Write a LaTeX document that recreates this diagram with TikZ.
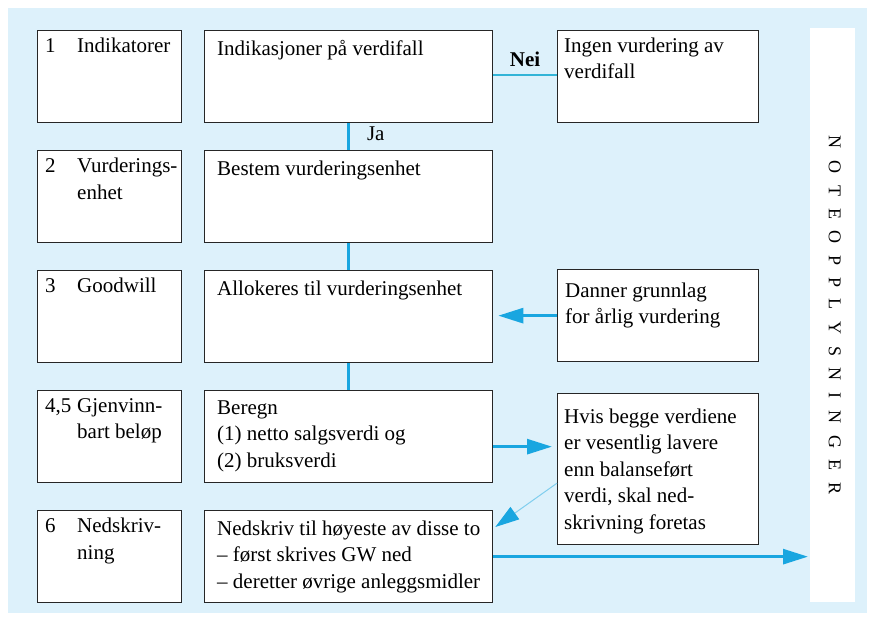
\documentclass[tikz,border=0pt]{standalone}
\usepackage{fontspec}
\setmainfont{Liberation Serif}
\usetikzlibrary{positioning,arrows.meta}

\definecolor{fondo}{RGB}{221,241,251}
\definecolor{azul}{RGB}{25,166,224}
\definecolor{turquesa}{RGB}{50,180,215}
\definecolor{borde}{RGB}{38,38,38}

\tikzset{
	caja/.style={draw=borde, line width=1.3pt, fill=white, anchor=north west, inner sep=0pt},
	izq/.style={caja, minimum width=144pt, minimum height=92pt},
	centro/.style={caja, minimum width=288pt, minimum height=92pt},
	der/.style={caja, minimum width=201pt, minimum height=92pt},
	texto/.style={align=left, inner sep=0pt, font=\fontsize{21}{26.5}\selectfont},
	linea/.style={draw=azul, line width=2.8pt},
	flecha/.style={draw=azul, line width=2.8pt, -{Triangle[length=25pt,width=15pt]}},
}
\newcommand{\numero}[1]{\makebox[32pt][l]{#1}}
\newcommand{\sangria}{\hspace*{32pt}}

\begin{document}
\begin{tikzpicture}[x=1pt, y=-1pt]
	\useasboundingbox (0,0) rectangle (871,619);
	\fill[fondo] (8,8) rectangle (867,613); % fondo azul
	\node[fill=white, inner sep=0pt, anchor=north west, minimum width=45pt, minimum height=574pt] (noter) at (810,28) {};
	\node[rotate=-90, inner sep=0pt, font=\fontsize{18}{18}\selectfont] (noter-txt) at ([xshift=2pt]noter.center)
		{\foreach \letra in {N,O,T,E,O,P,P,L,Y,S,N,I,N,G,E,R}{\letra\hskip 11.7pt}\unskip};

	\node[izq] (indikatorer) at (37,30) {};
	\node[izq] (vurdenhet) at (37,150) {};
	\node[izq] (goodwill) at (37,270) {};
	\node[izq] (gjenvinn) at (37,390) {};
	\node[izq] (nedskrivning) at (37,510) {};
	\node[centro] (indikasjoner) at (204,30) {};
	\node[centro] (bestem) at (204,150) {};
	\node[centro] (allokeres) at (204,270) {};
	\node[centro] (beregn) at (204,390) {};
	\node[centro] (nedskriv) at (204,510) {};
	\node[der] (ingen) at (557,30) {};
	\node[der] (danner) at (557,269) {};
	\node[der, minimum height=151pt] (hvis) at (557,393) {};

	\node[texto, below right=8pt and 8pt of indikatorer.north west] (t-indikatorer) {\numero{1}Indikatorer};
	\node[texto, below right=8pt and 8pt of vurdenhet.north west] (t-vurdenhet) {\numero{2}Vurderings-\\\sangria enhet};
	\node[texto, below right=8pt and 8pt of goodwill.north west] (t-goodwill) {\numero{3}Goodwill};
	\node[texto, below right=8pt and 8pt of gjenvinn.north west] (t-gjenvinn) {\numero{4,5}Gjenvinn-\\\sangria bart beløp};
	\node[texto, below right=8pt and 8pt of nedskrivning.north west] (t-nedskrivning) {\numero{6}Nedskriv-\\\sangria ning};

	\node[texto, below right=10.5pt and 13pt of indikasjoner.north west] (t-indikasjoner) {Indikasjoner på verdifall};
	\node[texto, below right=10.5pt and 13pt of bestem.north west] (t-bestem) {Bestem vurderingsenhet};
	\node[texto, below right=10.5pt and 13pt of allokeres.north west] (t-allokeres) {Allokeres til vurderingsenhet};
	\node[texto, below right=10.5pt and 13pt of beregn.north west] (t-beregn) {Beregn\\(1) netto salgsverdi og\\(2) bruksverdi};
	\node[texto, below right=10.5pt and 13pt of nedskriv.north west] (t-nedskriv) {Nedskriv til høyeste av disse to\\-- først skrives GW ned\\-- deretter øvrige anleggsmidler};

	\node[texto, below right=7.5pt and 7pt of ingen.north west] (t-ingen) {Ingen vurdering av\\verdifall};
	\node[texto, below right=13.5pt and 8pt of danner.north west] (t-danner) {Danner grunnlag\\for årlig vurdering};
	\node[texto, below right=15.5pt and 7pt of hvis.north west] (t-hvis) {Hvis begge verdiene\\er vesentlig lavere\\enn balanseført\\verdi, skal ned-\\skrivning foretas};

	% conectores
	\draw[linea] (indikasjoner.south) -- node[texto, anchor=base west, xshift=17pt, yshift=-4pt] (ja) {Ja} (bestem.north);
	\draw[linea] (bestem.south) -- (allokeres.north);
	\draw[linea] (allokeres.south) -- (beregn.north);
	\draw[draw=turquesa, line width=2pt] ([yshift=2pt]indikasjoner.east) -- node[texto, above=7pt, font=\fontsize{21}{24}\selectfont\bfseries] (nei) {Nei} ([yshift=2pt]ingen.west);
	\draw[flecha, shorten >=5pt] (danner.west) -- (danner.west -| allokeres.east);
	\coordinate (beregn-ut) at ([yshift=-10pt]beregn.east);
	\draw[flecha, shorten >=5pt] (beregn-ut) -- (beregn-ut -| hvis.west);
	\draw[draw=azul!55, line width=1pt, -{Triangle[length=24pt,width=15pt,color=azul]}] ([yshift=-14pt]hvis.west) -- ([shift={(2pt,-17pt)}]nedskriv.north east);
	\draw[flecha, shorten >=2pt] (nedskriv.east) -- (nedskriv.east -| noter.west);
\end{tikzpicture}
\end{document}
